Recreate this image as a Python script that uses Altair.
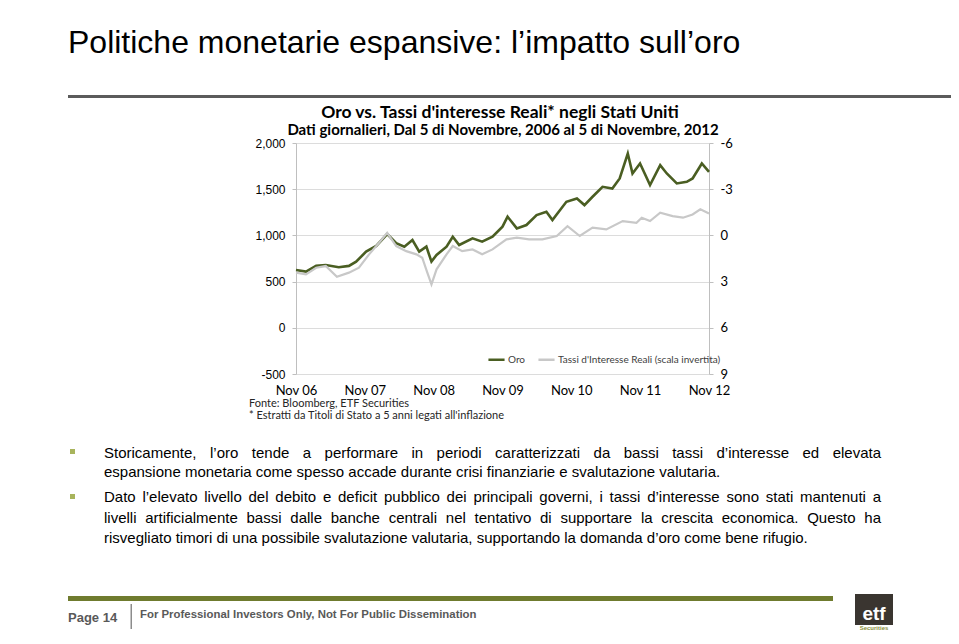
import altair as alt
import pandas as pd

# ---------------- data ----------------
gold_dates = ["2006-11-05", "2006-12-28", "2007-02-20", "2007-04-12", "2007-06-20", "2007-08-13",
              "2007-09-20", "2007-11-12", "2008-01-05", "2008-03-03", "2008-04-20", "2008-06-02",
              "2008-07-15", "2008-08-20", "2008-09-27", "2008-10-24", "2008-11-20", "2009-01-12",
              "2009-02-14", "2009-03-20", "2009-05-30", "2009-07-20", "2009-09-13", "2009-11-05",
              "2009-12-02", "2010-01-20", "2010-03-12", "2010-05-05", "2010-06-26", "2010-07-28",
              "2010-10-10", "2010-12-05", "2011-01-14", "2011-02-26", "2011-04-20", "2011-06-11",
              "2011-07-20", "2011-09-01", "2011-09-26", "2011-11-05", "2011-12-28", "2012-02-20",
              "2012-03-26", "2012-05-18", "2012-07-10", "2012-08-10", "2012-09-28", "2012-11-05"]
gold_values = [626, 608, 670, 680, 655, 670, 716, 824, 886, 1015, 915, 878,
               950, 824, 878, 716, 788, 878, 986, 896, 968, 932, 986, 1094,
               1202, 1076, 1112, 1220, 1256, 1166, 1364, 1400, 1328, 1418, 1526, 1508,
               1616, 1886, 1670, 1778, 1544, 1760, 1670, 1562, 1580, 1616, 1778, 1688]

real_dates = ["2006-11-05", "2006-12-28", "2007-02-20", "2007-04-12", "2007-06-10", "2007-08-13",
              "2007-10-05", "2007-11-28", "2008-01-20", "2008-03-03", "2008-04-20", "2008-06-12",
              "2008-08-05", "2008-09-05", "2008-10-02", "2008-10-24", "2008-11-20", "2009-01-12",
              "2009-02-14", "2009-04-05", "2009-05-30", "2009-07-20", "2009-09-13", "2009-11-26",
              "2010-01-20", "2010-03-26", "2010-06-05", "2010-08-20", "2010-10-16", "2010-12-20",
              "2011-02-26", "2011-05-10", "2011-08-05", "2011-10-17", "2011-11-14", "2011-12-28",
              "2012-02-20", "2012-04-26", "2012-06-20", "2012-08-10", "2012-09-20", "2012-11-05"]
real_values = [2.42, 2.53, 2.10, 1.99, 2.68, 2.42, 2.10, 1.23, 0.48, -0.17, 0.69, 1.02,
               1.23, 1.45, 2.42, 3.18, 2.20, 1.23, 0.69, 1.02, 0.91, 1.23, 0.91, 0.26,
               0.15, 0.26, 0.26, 0.04, -0.60, 0.04, -0.50, -0.39, -0.93, -0.82, -1.15, -0.93,
               -1.47, -1.25, -1.15, -1.36, -1.69, -1.43]

series_names = ["Oro", "Tassi d'Interesse Reali (scala invertita)"]
left_ticks = [-500, 0, 500, 1000, 1500, 2000]
right_ticks = [-6, -3, 0, 3, 6, 9]
x_tick_years = [2006, 2007, 2008, 2009, 2010, 2011, 2012]

slide_title = "Politiche monetarie espansive: l’impatto sull’oro"
chart_title = "Oro vs. Tassi d'interesse Reali* negli Stati Uniti"
chart_subtitle = "Dati giornalieri, Dal 5 di Novembre, 2006 al 5 di Novembre, 2012"
source_1 = "Fonte: Bloomberg, ETF Securities"
source_2 = "* Estratti da Titoli di Stato a 5 anni legati all'inflazione"
bullet_lines = [
    ("Storicamente, l’oro tende a performare in periodi caratterizzati da bassi tassi d’interesse ed elevata", True),
    ("espansione monetaria come spesso accade durante crisi finanziarie e svalutazione valutaria.", False),
    ("Dato l’elevato livello del debito e deficit pubblico dei principali governi, i tassi d’interesse sono stati mantenuti a", True),
    ("livelli artificialmente bassi dalle banche centrali nel tentativo di supportare la crescita economica. Questo ha", True),
    ("risvegliato timori di una possibile svalutazione valutaria, supportando la domanda d’oro come bene rifugio.", False),
]
footer_page = "Page 14"
footer_text = "For Professional Investors Only, Not For Public Dissemination"

# ---------------- layout ----------------
PL, PT = 296, 143          # page position of plot origin
W, H = 413, 231
PAD = {"left": PL - 8, "top": PT - 8, "right": 943 - (PL - 8) - W, "bottom": 622 - (PT - 8) - H}


def px(x):
    return x - PL


def py(y):
    return y - PT


SANS = "Liberation Sans"
CHART_FONT = "Lato"
GOLD = "#4a5e22"
GRAY = "#c8c8c8"

one = pd.DataFrame({"k": [0]})


def txt(s, x, y, **kw):
    return alt.Chart(one).mark_text(text=s, **kw).encode(x=alt.value(px(x)), y=alt.value(py(y)))


def box(x1, x2, y1, y2, color):
    return alt.Chart(one).mark_rect(color=color).encode(
        x=alt.value(px(x1)), x2=alt.value(px(x2)), y=alt.value(py(y1)), y2=alt.value(py(y2)))


# Helvetica / Arial advance widths (1/1000 em) for justified text layout
HELV = {' ': 278, '!': 278, "'": 191, '’': 222, '(': 333, ')': 333, ',': 278, '-': 333, '.': 278,
        ':': 278, ';': 278,
        'A': 667, 'B': 667, 'C': 722, 'D': 722, 'E': 667, 'F': 611, 'G': 778, 'H': 722, 'I': 278,
        'J': 500, 'K': 667, 'L': 556, 'M': 833, 'N': 722, 'O': 778, 'P': 667, 'Q': 778, 'R': 722,
        'S': 667, 'T': 611, 'U': 722, 'V': 667, 'W': 944, 'X': 667, 'Y': 667, 'Z': 611,
        'a': 556, 'b': 556, 'c': 500, 'd': 556, 'e': 556, 'f': 278, 'g': 556, 'h': 556, 'i': 222,
        'j': 222, 'k': 500, 'l': 222, 'm': 833, 'n': 556, 'o': 556, 'p': 556, 'q': 556, 'r': 333,
        's': 500, 't': 278, 'u': 556, 'v': 500, 'w': 722, 'x': 500, 'y': 500, 'z': 500}


def wwidth(s, size):
    return sum(HELV.get(c, 556) for c in s) * size / 1000.0


BFS = 15
BX0, BX1 = 104, 881
line_y = [453, 472, 497, 518, 538]
words = []
for (line, just), yy in zip(bullet_lines, line_y):
    if just:
        ws = line.split(" ")
        tot = sum(wwidth(w, BFS) for w in ws)
        gap = (BX1 - BX0 - tot) / (len(ws) - 1)
        cx = BX0
        for w in ws:
            words.append({"w": w, "x": px(cx), "y": py(yy)})
            cx += wwidth(w, BFS) + gap
    else:
        words.append({"w": line, "x": px(BX0), "y": py(yy)})
words_df = pd.DataFrame(words)

gold_df = pd.DataFrame({"date": gold_dates, "value": gold_values, "series": series_names[0]})
real_df = pd.DataFrame({"date": real_dates, "value": real_values, "series": series_names[1]})

x_domain = [alt.DateTime(year=2006, month=11, date=5), alt.DateTime(year=2012, month=11, date=5)]
x_vals = [alt.DateTime(year=yv, month=11, date=5) for yv in x_tick_years]

color = alt.Color("series:N", scale=alt.Scale(domain=series_names, range=[GOLD, GRAY]),
                  legend=alt.Legend(orient="none", legendX=px(487), legendY=py(350), direction="horizontal",
                                    title=None, symbolType="stroke", symbolStrokeWidth=2.5, symbolSize=260,
                                    labelFont=CHART_FONT, labelFontSize=10, labelColor="#404040",
                                    labelLimit=400, columnPadding=7, labelOffset=2, padding=0))

gold_line = alt.Chart(gold_df).mark_line(strokeWidth=2.6).encode(
    x=alt.X("date:T", scale=alt.Scale(domain=x_domain),
            axis=alt.Axis(values=x_vals, format="%b %y", title=None, domain=False, ticks=False, grid=False,
                          labelFont=CHART_FONT, labelFontSize=13, labelColor="#000000", labelPadding=10,
                          labelFlush=False, labelOverlap=False, labelBound=False)),
    y=alt.Y("value:Q", scale=alt.Scale(domain=[-500, 2000], nice=False),
            axis=alt.Axis(values=left_ticks, title=None, grid=True, gridColor="#dcdcdc",
                          labelExpr="(datum.value < 0 ? '-' : '') + format(abs(datum.value), ',.0f')",
                          domainColor="#bfbfbf", tickColor="#bfbfbf", tickSize=4, labelPadding=7,
                          labelFont=SANS, labelFontSize=12, labelColor="#000000")),
    color=color,
)

real_line = alt.Chart(real_df).mark_line(strokeWidth=2.2).encode(
    x=alt.X("date:T", scale=alt.Scale(domain=x_domain), axis=None),
    y=alt.Y("value:Q", scale=alt.Scale(domain=[-6, 9], reverse=True, nice=False),
            axis=alt.Axis(values=right_ticks, orient="right", title=None, grid=False,
                          labelExpr="(datum.value < 0 ? '-' : '') + format(abs(datum.value), 'd')",
                          domainColor="#bfbfbf", tickColor="#bfbfbf", tickSize=4, labelPadding=7,
                          labelFont=CHART_FONT, labelFontSize=13, labelColor="#000000")),
    color=color,
)

bullets = alt.Chart(words_df).mark_text(align="left", baseline="middle", font=SANS, fontSize=BFS,
                                        color="#000000").encode(
    x=alt.X("x:Q", scale=None, axis=None), y=alt.Y("y:Q", scale=None, axis=None), text="w:N")

layers = [
    # slide title and rule
    txt(slide_title, 68, 53, align="left", baseline="alphabetic", font=SANS, fontSize=32, color="#000000"),
    box(68, 959, 95, 98, "#5b5b5b"),
    # chart titles
    txt(chart_title, 500, 113, align="center", baseline="middle", font=CHART_FONT, fontSize=17.5,
        fontWeight="bold", color="#000000"),
    txt(chart_subtitle, 503, 130, align="center", baseline="middle", font=CHART_FONT, fontSize=15,
        fontWeight="bold", color="#000000"),
    gold_line,
    real_line,
    txt(source_1, 249, 404, align="left", baseline="middle", font=CHART_FONT, fontSize=11, color="#262626"),
    txt(source_2, 249, 415.5, align="left", baseline="middle", font=CHART_FONT, fontSize=11, color="#262626"),
    # bullets
    box(70, 75, 449, 454, "#a8b45c"),
    box(70, 75, 494, 499, "#a8b45c"),
    bullets,
    # footer
    box(68, 833, 596, 601, "#6f7b2e"),
    txt(footer_page, 68, 618, align="left", baseline="middle", font=SANS, fontSize=13, fontWeight="bold",
        color="#595959"),
    box(130.5, 132, 604, 629, "#8c8c8c"),
    txt(footer_text, 140, 615, align="left", baseline="middle", font=SANS, fontSize=11.4, fontWeight="bold",
        color="#595959"),
    # logo
    box(855, 893, 594, 625, "#3a3530"),
    txt("etf", 874, 620, align="center", baseline="alphabetic", font=SANS, fontSize=19, fontWeight="bold",
        color="#ffffff"),
    txt("Securities", 874, 627.8, align="center", baseline="middle", font=SANS, fontSize=6,
        fontWeight="bold", color="#8a8f3c"),
]

chart = alt.layer(*layers).resolve_scale(x="independent", y="independent").properties(
    width=W, height=H, padding=PAD, autosize=alt.AutoSizeParams(type="none"),
    background="#ffffff",
).configure_view(stroke=None)

chart.save("out.html", embed_options={"renderer": "svg", "actions": False})
